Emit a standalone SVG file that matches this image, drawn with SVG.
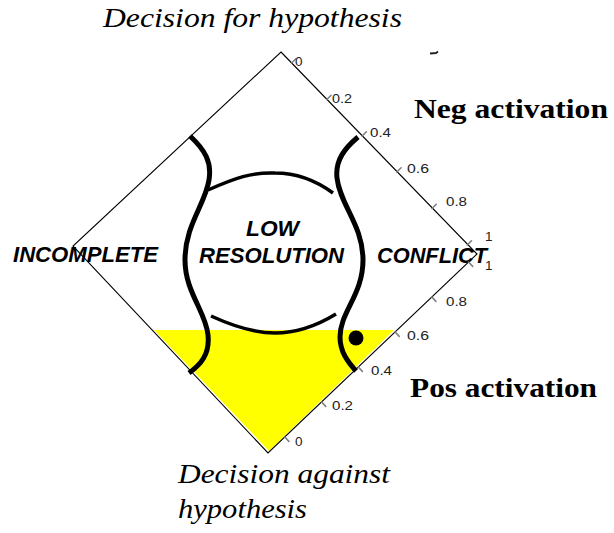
<svg xmlns="http://www.w3.org/2000/svg" width="614" height="533" viewBox="0 0 614 533">
  <style>
    .frame { fill: none; stroke: #000; stroke-width: 1.1; }
    .tick { stroke: #808080; stroke-width: 1.6; stroke-linecap: round; }
    .tlabel { font-family: "Liberation Sans", Arial, sans-serif; font-size: 13.5px; fill: #222; }
    .serif-it { font-family: "Liberation Serif", "Times New Roman", serif; font-style: italic; font-size: 28px; fill: #000; }
    .serif-bd { font-family: "Liberation Serif", "Times New Roman", serif; font-weight: bold; font-size: 28px; fill: #000; }
    .region { font-family: "Liberation Sans", Arial, sans-serif; font-weight: bold; font-style: italic; font-size: 22px; fill: #000; }
    .bound { fill: none; stroke: #000; stroke-width: 5; stroke-linecap: butt; }
    .arc { fill: none; stroke: #000; stroke-width: 3.5; stroke-linecap: butt; }
  </style>

  <rect width="614" height="533" fill="#fff"/>

  <!-- shaded decision zone -->
  <polygon id="decision-zone" points="154,330 394,330 269,451" fill="#ffff00"/>

  <!-- region labels -->
  <g id="region-incomplete">
    <text class="region" x="13" y="262" textLength="145" lengthAdjust="spacingAndGlyphs">INCOMPLETE</text>
  </g>
  <g id="region-low-resolution">
    <text class="region" x="246" y="236" textLength="53" lengthAdjust="spacingAndGlyphs">LOW</text>
    <text class="region" x="199" y="263" textLength="145" lengthAdjust="spacingAndGlyphs">RESOLUTION</text>
  </g>
  <g id="region-conflict">
    <text class="region" x="377" y="263" textLength="110" lengthAdjust="spacingAndGlyphs">CONFLICT</text>
  </g>

  <!-- diamond frame -->
  <polygon id="frame" class="frame" points="281,52 477,254 268,453 73,246"/>

  <!-- scale: negative activation (upper right edge) -->
  <g id="scale-neg">
    <line class="tick" x1="291.6" y1="63" x2="295.9" y2="58.8"/>
    <line class="tick" x1="326.8" y1="99.5" x2="331.1" y2="95.3"/>
    <line class="tick" x1="362.1" y1="136" x2="366.4" y2="131.8"/>
    <line class="tick" x1="396.8" y1="172" x2="401.1" y2="167.8"/>
    <line class="tick" x1="432" y1="208.5" x2="436.3" y2="204.3"/>
    <line class="tick" x1="467.2" y1="245" x2="471.5" y2="240.8"/>
    <text class="tlabel" x="295" y="66">0</text>
    <text class="tlabel" x="332" y="103" textLength="20" lengthAdjust="spacingAndGlyphs">0.2</text>
    <text class="tlabel" x="370" y="137" textLength="21" lengthAdjust="spacingAndGlyphs">0.4</text>
    <text class="tlabel" x="407" y="173" textLength="22" lengthAdjust="spacingAndGlyphs">0.6</text>
    <text class="tlabel" x="446" y="206" textLength="21" lengthAdjust="spacingAndGlyphs">0.8</text>
    <text class="tlabel" x="485" y="241">1</text>
  </g>

  <!-- scale: positive activation (lower right edge) -->
  <g id="scale-pos">
    <line class="tick" x1="468.6" y1="262" x2="472.7" y2="266.4"/>
    <line class="tick" x1="431.8" y1="297" x2="435.9" y2="301.4"/>
    <line class="tick" x1="395.1" y1="332" x2="399.2" y2="336.4"/>
    <line class="tick" x1="358.3" y1="367" x2="362.4" y2="371.4"/>
    <line class="tick" x1="321.6" y1="402" x2="325.7" y2="406.4"/>
    <line class="tick" x1="284.8" y1="437" x2="288.9" y2="441.4"/>
    <text class="tlabel" x="485" y="270">1</text>
    <text class="tlabel" x="446" y="306" textLength="21" lengthAdjust="spacingAndGlyphs">0.8</text>
    <text class="tlabel" x="407" y="340" textLength="22" lengthAdjust="spacingAndGlyphs">0.6</text>
    <text class="tlabel" x="371" y="375" textLength="21" lengthAdjust="spacingAndGlyphs">0.4</text>
    <text class="tlabel" x="332" y="410" textLength="21" lengthAdjust="spacingAndGlyphs">0.2</text>
    <text class="tlabel" x="295" y="446">0</text>
  </g>

  <!-- region boundaries -->
  <g id="boundaries">
    <path class="bound" d="M190,136 C205,150 212,162 209,180 C205,205 185,225 185,260 C185,292 206,312 208,335 C210,355 200,365 189,373"/>
    <path class="bound" d="M358,137 C345,148 335,160 337,178 C340,205 363,225 363,260 C363,295 340,312 340,337 C340,352 348,362 356,371"/>
    <path class="arc" d="M208,190 C235,178 252,172 275,173 C300,173 318,182 333,193"/>
    <path class="arc" d="M211,316 C235,327 255,333 275,333 C297,333 318,325 336,314"/>
  </g>

  <!-- current state -->
  <g id="state-point">
    <circle cx="356" cy="338" r="7.5" fill="#000"/>
  </g>

  <!-- small stroke near top right -->
  <path d="M430,53.5 L436,53 L438,51.5" fill="none" stroke="#222" stroke-width="1.8"/>

  <!-- axis captions -->
  <g id="caption-for">
    <text class="serif-it" x="103" y="27" textLength="299" lengthAdjust="spacingAndGlyphs">Decision for hypothesis</text>
  </g>
  <g id="caption-against">
    <text class="serif-it" x="178" y="483" textLength="212" lengthAdjust="spacingAndGlyphs">Decision against</text>
    <text class="serif-it" x="178" y="518" textLength="129" lengthAdjust="spacingAndGlyphs">hypothesis</text>
  </g>
  <g id="caption-neg">
    <text class="serif-bd" x="414" y="118" textLength="194" lengthAdjust="spacingAndGlyphs">Neg activation</text>
  </g>
  <g id="caption-pos">
    <text class="serif-bd" x="410" y="397" textLength="187" lengthAdjust="spacingAndGlyphs">Pos activation</text>
  </g>
</svg>
